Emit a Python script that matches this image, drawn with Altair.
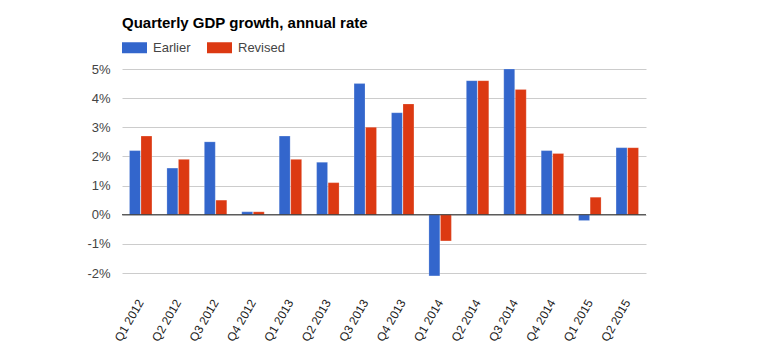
import altair as alt
import pandas as pd

quarters = ["Q1 2012", "Q2 2012", "Q3 2012", "Q4 2012", "Q1 2013", "Q2 2013", "Q3 2013",
            "Q4 2013", "Q1 2014", "Q2 2014", "Q3 2014", "Q4 2014", "Q1 2015", "Q2 2015"]
earlier = [2.2, 1.6, 2.5, 0.1, 2.7, 1.8, 4.5, 3.5, -2.1, 4.6, 5.0, 2.2, -0.2, 2.3]
revised = [2.7, 1.9, 0.5, 0.1, 1.9, 1.1, 3.0, 3.8, -0.9, 4.6, 4.3, 2.1, 0.6, 2.3]
series = ["Earlier", "Revised"]
y_ticks = [-2, -1, 0, 1, 2, 3, 4, 5]

rows = []
for i, q in enumerate(quarters):
    rows.append({"quarter": q, "series": series[0], "value": earlier[i]})
    rows.append({"quarter": q, "series": series[1], "value": revised[i]})
df = pd.DataFrame(rows)

FONT = "Liberation Sans"
yscale = alt.Scale(domain=[-2, 5], nice=False, zero=False)
yaxis = alt.Axis(title=None, values=y_ticks, labelExpr="datum.value + '%'",
                 ticks=False, domain=False, labelPadding=12, labelFontSize=13,
                 labelOverlap=False, labelColor="#444444", labelFont=FONT,
                 gridColor="#cccccc")

bars = alt.Chart(df).mark_bar(stroke="white", strokeWidth=0.5, strokeOpacity=0.4).encode(
    x=alt.X("quarter:N", sort=quarters,
            scale=alt.Scale(paddingInner=0.4, paddingOuter=0.2),
            axis=alt.Axis(title=None, labelAngle=-60, labelAlign="right", labelBaseline="middle",
                          ticks=False, domain=False, labelPadding=27, labelFontSize=12,
                          labelColor="#222222", labelFont=FONT)),
    xOffset=alt.XOffset("series:N", sort=series, scale=alt.Scale(paddingInner=0.05)),
    y=alt.Y("value:Q", scale=yscale, axis=yaxis),
    color=alt.Color("series:N", sort=series,
                    scale=alt.Scale(domain=series, range=["#3366cc", "#dc3912"]),
                    legend=alt.Legend(title=None, orient="none", legendX=0, legendY=-34,
                                      direction="horizontal",
                                      symbolType="M-1,-0.44H1V0.44H-1Z", symbolSize=625,
                                      symbolStrokeWidth=0, symbolOpacity=1,
                                      labelFontSize=13, labelColor="#444444", labelFont=FONT,
                                      labelOffset=6, columnPadding=16)),
)

zero_rule = alt.Chart(pd.DataFrame({"z": [0]})).mark_rule(color="#333333", strokeWidth=1).encode(
    y=alt.Y("z:Q", scale=yscale, axis=yaxis)
)

chart = alt.layer(bars, zero_rule).properties(
    width=524, height=204,
    title=alt.TitleParams("Quarterly GDP growth, annual rate", anchor="start", frame="group",
                          font=FONT, fontSize=15, fontWeight="bold", color="#000000", offset=4),
    padding={"left": 122, "top": 69, "right": 122, "bottom": 84},
    autosize=alt.AutoSizeParams(type="none"),
).configure_view(stroke=None)

chart.save("out.html", embed_options={"renderer": "svg", "actions": False})
